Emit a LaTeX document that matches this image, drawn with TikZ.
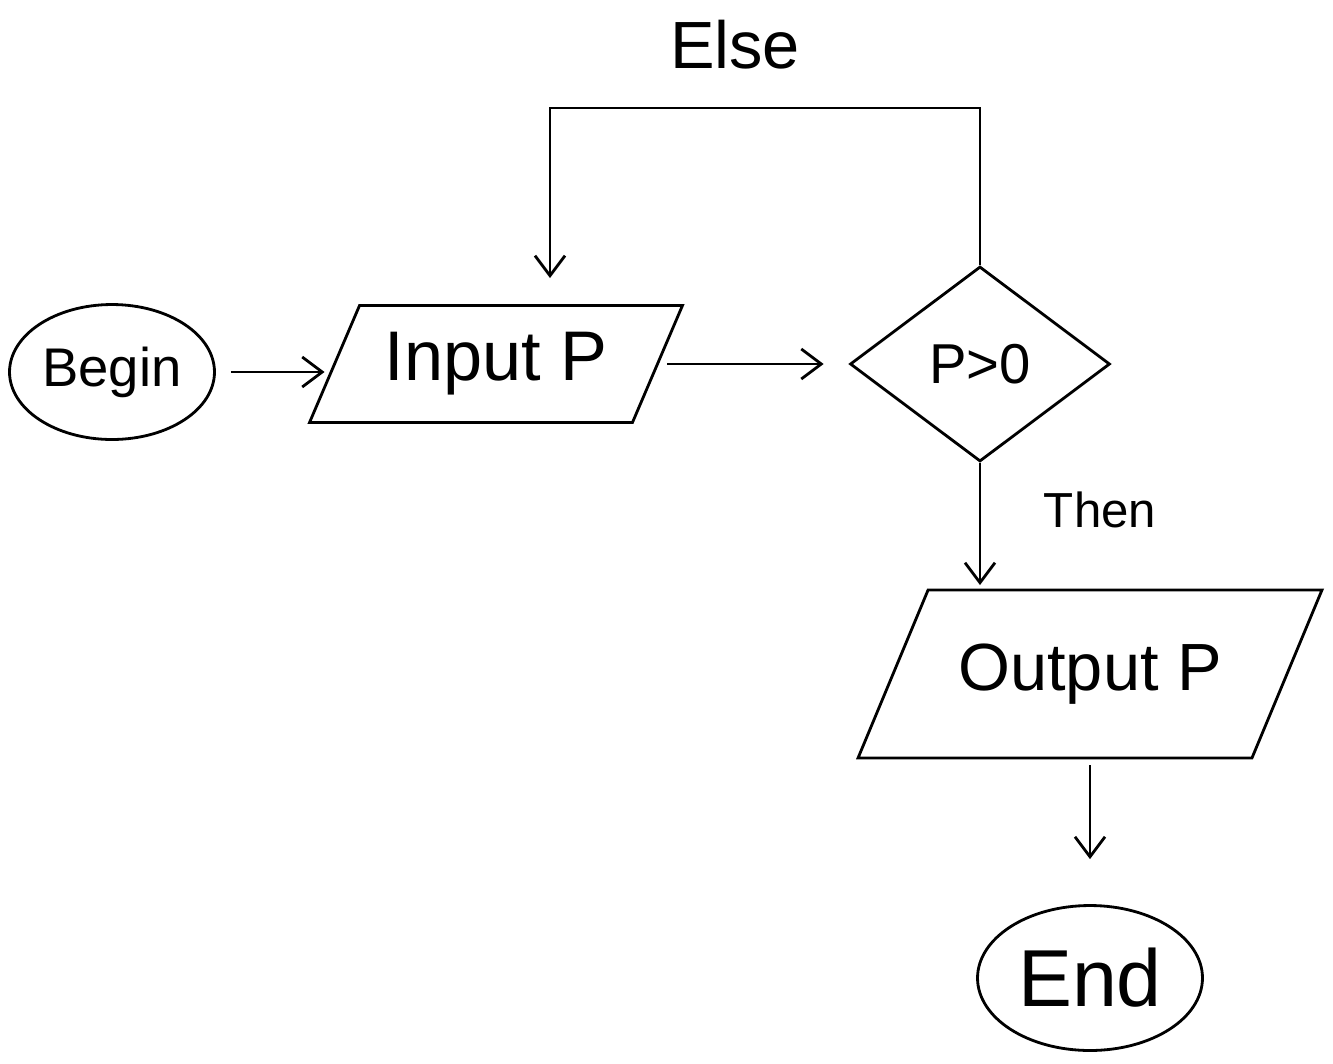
\documentclass[tikz,border=0pt]{standalone}
\usepackage{fontspec}
\setmainfont{Liberation Sans}
\usetikzlibrary{shapes.geometric,arrows.meta,calc}
\begin{document}
\begin{tikzpicture}[x=0.02cm,y=-0.02cm,
  line width=1.6pt,
  term/.style={draw,ellipse,inner sep=0pt},
  iobody/.style={rectangle,inner sep=0pt,outer sep=0pt},
  decision/.style={draw,diamond,inner sep=0pt},
  flow/.style={-{Straight Barb[length=0.4cm,width=0.6cm]}},
  lbl/.style={inner sep=0pt}
]
\useasboundingbox (0,0) rectangle (1333,1063);

% start / end terminals
\node[term,minimum width=4.1cm,minimum height=2.7cm,
  font=\fontsize{31}{35}\selectfont] (begin) at (112,372) {Begin};
\node[term,minimum width=4.5cm,minimum height=2.9cm,
  font=\fontsize{46}{50}\selectfont] (end) at (1090,978) {End};

% input / output: a text box framed by a parallelogram
\node[iobody,minimum width=7.46cm,minimum height=2.34cm,
  font=\fontsize{40}{44}\selectfont] (inp) at (496,364) {Input P};
\draw (inp.south west) -- ($(inp.north west)+(50,0)$) -- (inp.north east)
  -- ($(inp.south east)-(50,0)$) -- cycle;
\coordinate (inpL) at ($(inp.west)+(25,0)$);
\coordinate (inpR) at ($(inp.east)-(25,0)$);

\node[iobody,minimum width=9.28cm,minimum height=3.36cm,
  font=\fontsize{38}{42}\selectfont] (out) at (1090,674) {Output P};
\draw (out.south west) -- ($(out.north west)+(70,0)$) -- (out.north east)
  -- ($(out.south east)-(70,0)$) -- cycle;

% decision
\node[decision,minimum width=5.2cm,minimum height=3.9cm,
  font=\fontsize{32}{36}\selectfont] (dia) at (980,364) {P>0};

% corners of the loop back
\coordinate (loopR) at (980,108);
\coordinate (loopL) at (550,108);
\coordinate (loopEnd) at (550,278);

% connectors
\draw[flow,shorten <=0.3cm,shorten >=0.2cm] (begin.east) -- (begin.east -| inpL);
\draw[flow,shorten <=0.2cm,shorten >=0.5cm] (inpR) -- (dia.west);
\draw[flow] (dia.north) -- (loopR) -- (loopL) -- (loopEnd);
\draw[flow,shorten >=0.1cm] (dia.south) -- (dia.south |- out.north);
\draw[flow,shorten <=0.15cm,shorten >=0.9cm] (out.south) -- (end.north);

% branch labels
\node[lbl,font=\fontsize{38}{42}\selectfont] (elseLbl) at (735,45) {Else};
\node[lbl,font=\fontsize{28}{32}\selectfont] (thenLbl) at (1100,510) {Then};
\end{tikzpicture}
\end{document}
